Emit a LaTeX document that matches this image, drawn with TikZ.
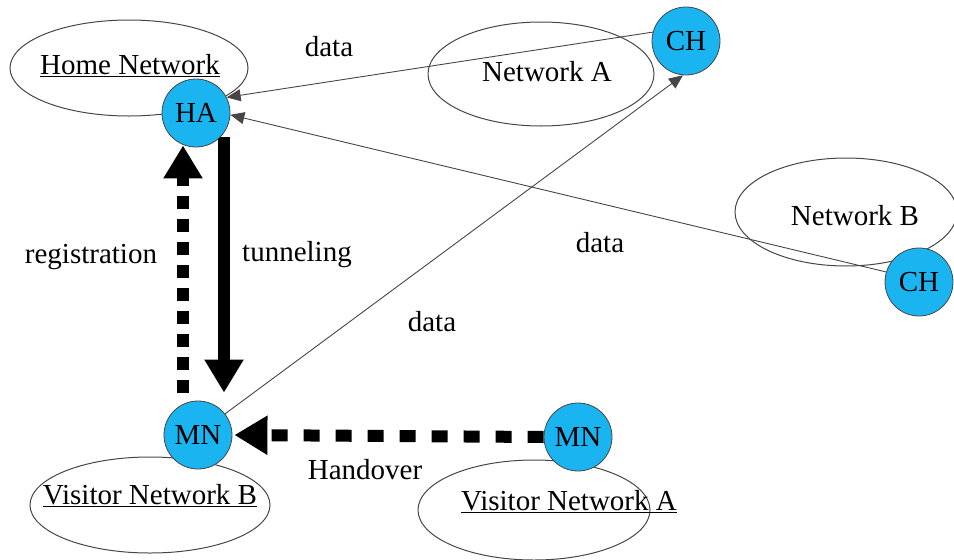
\documentclass[tikz,border=0pt]{standalone}
\usepackage{fontspec}
\setmainfont{Liberation Serif}
\usetikzlibrary{arrows.meta,shapes.geometric}
\definecolor{nodeblue}{RGB}{26,180,240}
\definecolor{edgegray}{RGB}{70,70,70}
\begin{document}
\begin{tikzpicture}[x=1pt,y=-1pt,
  every node/.style={font=\fontsize{29}{34}\selectfont},
  net/.style={draw=edgegray,line width=1pt,ellipse,inner sep=0pt},
  host/.style={circle,draw=edgegray,line width=0.8pt,fill=nodeblue,minimum size=68pt,inner sep=0pt},
  lbl/.style={inner sep=0pt},
  datalink/.style={draw=edgegray,line width=0.9pt,-{Triangle[length=14pt,width=12pt]}},
  thickarrow/.style={line width=12pt,-{Triangle[length=33pt,width=37pt]}},
  dashedthick/.style={thickarrow,dash pattern=on 13pt off 10pt},
  handoverline/.style={thickarrow,dash pattern=on 16pt off 16pt}]
\useasboundingbox (0,0) rectangle (954,560);

% network areas
\node[net,minimum width=238pt,minimum height=96pt] (homenet) at (129,68) {};
\node[net,minimum width=226pt,minimum height=104pt] (neta) at (541,74) {};
\node[net,minimum width=222pt,minimum height=108pt] (netb) at (846,212) {};
\node[net,minimum width=240pt,minimum height=96pt] (visb) at (150,505) {};
\node[net,minimum width=232pt,minimum height=100pt] (visa) at (534,510) {};

\node[lbl] (homelbl) at (130,66) {\underline{Home Network}};
\node[lbl] (netalbl) at (547,72) {Network A};
\node[lbl] (netblbl) at (855,216) {Network B};
\node[lbl] (visblbl) at (150,496) {\underline{Visitor Network B}};
\node[lbl] (visalbl) at (569,502) {\underline{Visitor Network A}};

% hosts (placed now, drawn later on top of the links)
\path (196,113) coordinate (haC) (686,41) coordinate (ch1C) (919,282) coordinate (ch2C)
      (198,435) coordinate (mn1C) (578,437) coordinate (mn2C);
\node[host,draw=none,fill=none] (HA) at (haC) {};
\node[host,draw=none,fill=none] (CH1) at (ch1C) {};
\node[host,draw=none,fill=none] (CH2) at (ch2C) {};
\node[host,draw=none,fill=none] (MN1) at (mn1C) {};
\node[host,draw=none,fill=none] (MN2) at (mn2C) {};

% data flows
\draw[datalink] (CH1.165) -- (HA.27);
\draw[datalink] (CH2.163) -- (HA.-3);
\draw[datalink] (MN1.38) -- (CH1.-95);

% registration, tunneling and handover
\draw[dashedthick] ([xshift=-15pt,yshift=8pt]MN1.north) -- ([xshift=-13pt,yshift=2pt]HA.south);
\draw[thickarrow] ([xshift=28pt,yshift=10pt]HA.south) -- ([xshift=26pt,yshift=8pt]MN1.north);
\draw[handoverline] (MN2.west) -- ([xshift=2pt]MN1.east);

% host circles
\node[host] (ha) at (haC) {HA};
\node[host] (ch1) at (ch1C) {CH};
\node[host] (ch2) at (ch2C) {CH};
\node[host] (mn1) at (mn1C) {MN};
\node[host] (mn2) at (mn2C) {MN};

% labels
\node[lbl] (d1) at (329,47) {data};
\node[lbl] (d2) at (600,243) {data};
\node[lbl] (d3) at (432,322) {data};
\node[lbl] (reg) at (91,257) {registration};
\node[lbl] (tun) at (297,255) {tunneling};
\node[lbl] (hand) at (365,470) {Handover};
\end{tikzpicture}
\end{document}
